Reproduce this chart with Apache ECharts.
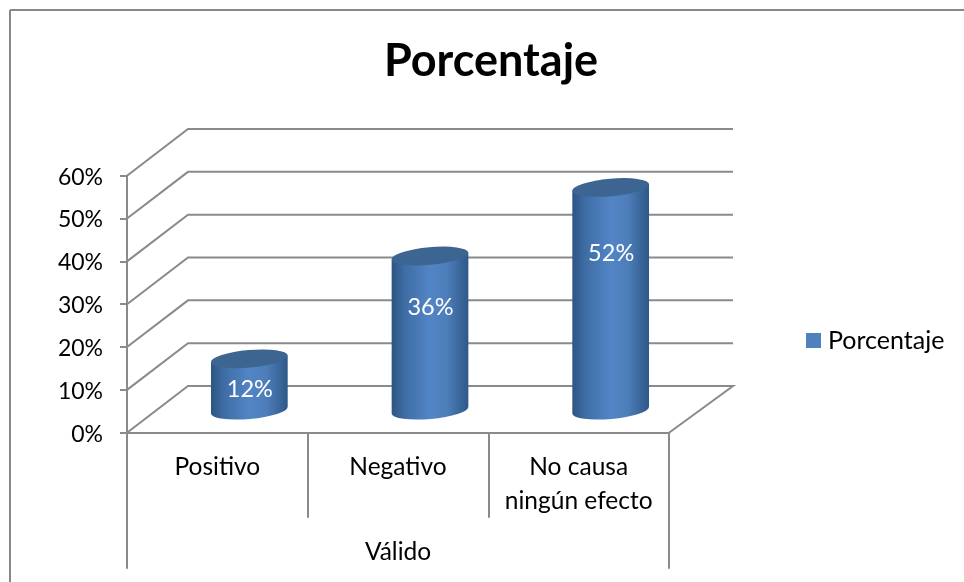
<!DOCTYPE html>
<html><head><meta charset="utf-8">
<script src="https://cdn.jsdelivr.net/npm/echarts@6/dist/echarts.min.js"></script>
<style>html,body{margin:0;padding:0;background:#fff}#c{width:964px;height:582px}</style>
</head><body><div id="c"></div>
<script>
const titleText = 'Porcentaje';
const seriesName = 'Porcentaje';
const categories = ['Positivo', 'Negativo', 'No causa\nningún efecto'];
const groupLabels = ['Válido'];
const values = [12, 36, 52];
const yTicks = [0, 10, 20, 30, 40, 50, 60];

const FONT = 'Lato';
const GRID = '#8a8a8a';
const DEPTH = [61, -46.7];
const BACK_RIGHT_GAP = 3;
const CYL = { dx: 32, dy: -22.5, rx: 38.5, ry: 8.8, tilt: 5 * Math.PI / 180 };

const chart = echarts.init(document.getElementById('c'), null, { renderer: 'canvas' });

function renderWalls(params, api) {
  const v = api.value(1);
  const cs = params.coordSys;
  const p = api.coord([0, v]);
  const x0 = cs.x, y0 = p[1];
  const bx = x0 + DEPTH[0], by = y0 + DEPTH[1];
  const pts = [[x0, y0], [bx, by], [cs.x + cs.width + DEPTH[0] + BACK_RIGHT_GAP, by]];
  if (v === 0) pts.push([cs.x + cs.width, y0]);
  return { type: 'polyline', shape: { points: pts },
    style: { stroke: GRID, lineWidth: 2, fill: null } };
}

function renderCylinder(params, api) {
  const i = api.value(0), v = api.value(1);
  const base = api.coord([i, 0]), top = api.coord([i, v]);
  const cx = base[0] + CYL.dx, by = base[1] + CYL.dy, ty = top[1] + CYL.dy;
  const ex = CYL.rx * Math.cos(CYL.tilt), ey = CYL.rx * Math.sin(CYL.tilt);
  const deg = -CYL.tilt * 180 / Math.PI;
  const body = `M ${cx - ex} ${ty + ey} L ${cx - ex} ${by + ey} ` +
    `A ${CYL.rx} ${CYL.ry} ${deg} 0 0 ${cx + ex} ${by - ey} L ${cx + ex} ${ty - ey} Z`;
  const cap = `M ${cx - ex} ${ty + ey} A ${CYL.rx} ${CYL.ry} ${deg} 0 1 ${cx + ex} ${ty - ey} ` +
    `A ${CYL.rx} ${CYL.ry} ${deg} 0 1 ${cx - ex} ${ty + ey} Z`;
  const labelPos = api.coord([i, v * 0.79]);
  return { type: 'group', children: [
    { type: 'path', shape: { pathData: body },
      style: { fill: new echarts.graphic.LinearGradient(0, 0, 1, 0, [
        { offset: 0, color: '#2d5583' }, { offset: 0.18, color: '#3f6ea6' },
        { offset: 0.5, color: '#5285c6' }, { offset: 0.72, color: '#4d7eba' },
        { offset: 1, color: '#2e5887' }]) } },
    { type: 'path', shape: { pathData: cap },
      style: { fill: '#3d6591' } },
    { type: 'text', x: cx + 0.5, y: labelPos[1] - 3,
      style: { text: api.value(1) + '%', fill: '#fff', font: `23.5px ${FONT}`,
        align: 'center', verticalAlign: 'middle' } }
  ] };
}

chart.setOption({
  animation: false,
  backgroundColor: '#fff',
  title: { text: titleText, left: 486, top: 34, textAlign: 'center',
    textStyle: { fontFamily: FONT, fontWeight: 'bold', fontSize: 45, color: '#000' } },
  legend: { data: [seriesName], left: 801, top: 323, itemWidth: 15, itemHeight: 15,
    icon: 'rect', textStyle: { fontFamily: FONT, fontSize: 25, color: '#000', padding: [0, 0, 0, 2] } },
  grid: { left: 127, top: 175.7, width: 542, height: 257 },
  xAxis: [
    { type: 'category', data: categories, position: 'bottom',
      axisLine: { lineStyle: { color: GRID, width: 2 } },
      axisTick: { show: true, length: 85, lineStyle: { color: GRID, width: 2 } },
      axisLabel: { fontFamily: FONT, fontSize: 24.5, color: '#000', margin: 17, lineHeight: 34, interval: 0 } },
    { type: 'category', data: groupLabels, position: 'bottom',
      axisLine: { show: false },
      axisTick: { show: true, length: 136, lineStyle: { color: GRID, width: 2 } },
      axisLabel: { fontFamily: FONT, fontSize: 24.5, color: '#000', margin: 107, interval: 0 } }
  ],
  yAxis: { type: 'value', min: 0, max: 60, interval: 10,
    axisLine: { show: true, lineStyle: { color: GRID, width: 2 } },
    axisTick: { show: true, length: 7, lineStyle: { color: GRID, width: 2 } },
    splitLine: { show: false },
    axisLabel: { formatter: '{value}%', fontFamily: FONT, fontSize: 23, color: '#000', margin: 24,
      verticalAlign: 'top', lineHeight: 3 } },
  graphic: [
    { type: 'line', shape: { x1: 10, y1: 10, x2: 964, y2: 10 }, style: { stroke: '#888', lineWidth: 2 } },
    { type: 'line', shape: { x1: 10, y1: 10, x2: 10, y2: 582 }, style: { stroke: '#888', lineWidth: 2 } }
  ],
  series: [
    { type: 'custom', name: 'walls', renderItem: renderWalls, silent: true, z: 1,
      data: yTicks.map(t => [0, t]), encode: { x: 0, y: 1 } },
    { type: 'custom', name: seriesName, renderItem: renderCylinder, z: 2,
      itemStyle: { color: '#4f81bd' },
      data: values.map((v, i) => [i, v]), encode: { x: 0, y: 1 } }
  ]
});
</script></body></html>
